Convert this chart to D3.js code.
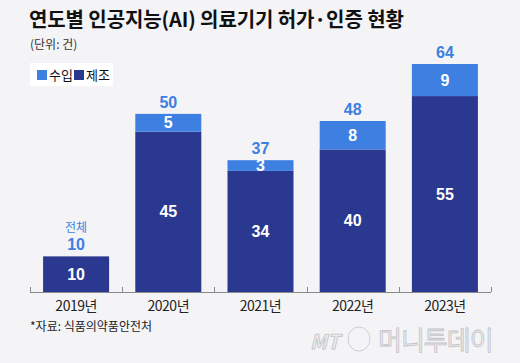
<!DOCTYPE html>
<html>
<head>
<meta charset="utf-8">
<script src="https://cdn.jsdelivr.net/npm/d3@7"></script>
<style>
  body { margin: 0; background: #f4f4f7; }
  svg { display: block; font-family: "Noto Sans CJK KR", "Noto Sans", sans-serif; }
  .num { font-family: "Liberation Sans Narrow", "Liberation Sans", Arial, sans-serif; }
</style>
</head>
<body>
<div id="chart"></div>
<script>
var years = ["2019년", "2020년", "2021년", "2022년", "2023년"];
var made = [10, 45, 34, 40, 55];      // 제조
var imported = [0, 5, 3, 8, 9];       // 수입
var totals = [10, 50, 37, 48, 64];    // 전체
var seriesNames = ["수입", "제조"];

function init() {
    var w = 520;
    var h = 363;
    var base = 292;

    var colImport = "#3e7fe2";
    var colMade = "#2b388f";

    var svg = d3.select("#chart")
                .append("svg")
                .attr("width", w)
                .attr("height", h);

    svg.append("rect")
        .attr("width", w)
        .attr("height", h)
        .attr("fill", "#f4f4f7");

    var xScale = d3.scaleBand()
                .domain(years)
                .range([30, 491])
                .paddingInner(0.284)
                .paddingOuter(0.142);

    var yScale = d3.scaleLinear()
                .domain([0, 64])
                .range([base, 64]);

    // title
    svg.append("text")
        .attr("x", 29)
        .attr("y", 27)
        .attr("font-size", 20)
        .attr("font-weight", "bold")
        .attr("letter-spacing", -0.1)
        .attr("fill", "#111")
        .text("연도별 인공지능(AI) 의료기기 허가·인증 현황");

    svg.append("text")
        .attr("x", 30)
        .attr("y", 49)
        .attr("font-size", 12)
        .attr("fill", "#333")
        .text("(단위: 건)");

    // legend
    var lg = svg.append("g");
    lg.append("rect")
        .attr("x", 30).attr("y", 63)
        .attr("width", 83).attr("height", 23)
        .attr("fill", "#fff");
    var lx = [37, 74];
    seriesNames.forEach(function(name, i) {
        lg.append("rect")
            .attr("x", lx[i]).attr("y", 70)
            .attr("width", 10).attr("height", 10)
            .attr("fill", i == 0 ? colImport : colMade);
        lg.append("text")
            .attr("x", lx[i] + 12).attr("y", 80)
            .attr("font-size", 13)
            .attr("fill", "#111")
            .text(name);
    });

    var data = years.map(function(y, i) {
        return { year: y, made: made[i], imp: imported[i], total: totals[i] };
    });

    // 제조 bars
    svg.selectAll("rect.made")
        .data(data)
        .enter()
        .append("rect")
        .attr("class", "made")
        .attr("x", function(d) { return xScale(d.year); })
        .attr("y", function(d) { return yScale(d.made); })
        .attr("width", xScale.bandwidth())
        .attr("height", function(d) { return base - yScale(d.made); })
        .attr("fill", colMade);

    // 수입 bars
    svg.selectAll("rect.imp")
        .data(data.filter(function(d) { return d.imp > 0; }))
        .enter()
        .append("rect")
        .attr("class", "imp")
        .attr("x", function(d) { return xScale(d.year); })
        .attr("y", function(d) { return yScale(d.made + d.imp); })
        .attr("width", xScale.bandwidth())
        .attr("height", function(d) { return yScale(d.made) - yScale(d.made + d.imp); })
        .attr("fill", colImport);

    var cx = function(d) { return xScale(d.year) + xScale.bandwidth() / 2; };

    // segment labels
    svg.selectAll("text.madeLbl")
        .data(data)
        .enter()
        .append("text")
        .attr("class", "num")
        .attr("x", cx)
        .attr("y", function(d) { return (yScale(d.made) + base) / 2 + 5.5; })
        .attr("text-anchor", "middle")
        .attr("font-size", 16)
        .attr("font-weight", "bold")
        .attr("fill", "#fff")
        .text(function(d) { return d.made; });

    svg.selectAll("text.impLbl")
        .data(data.filter(function(d) { return d.imp > 0; }))
        .enter()
        .append("text")
        .attr("class", "num")
        .attr("x", cx)
        .attr("y", function(d) { return (yScale(d.made) + yScale(d.made + d.imp)) / 2 + 5.5; })
        .attr("text-anchor", "middle")
        .attr("font-size", 16)
        .attr("font-weight", "bold")
        .attr("fill", "#fff")
        .text(function(d) { return d.imp; });

    // totals
    svg.selectAll("text.totLbl")
        .data(data)
        .enter()
        .append("text")
        .attr("class", "num")
        .attr("x", cx)
        .attr("y", function(d) { return yScale(d.total) - 6; })
        .attr("text-anchor", "middle")
        .attr("font-size", 16)
        .attr("font-weight", "bold")
        .attr("fill", colImport)
        .text(function(d) { return d.total; });

    svg.append("text")
        .attr("x", cx(data[0]))
        .attr("y", yScale(data[0].total) - 24)
        .attr("text-anchor", "middle")
        .attr("font-size", 12)
        .attr("fill", colImport)
        .text("전체");

    // baseline with ticks between bands
    var step = xScale.step();
    var edges = years.map(function(y) { return xScale(y) - step * xScale.paddingInner() / 2; });
    edges.push(xScale.range()[1]);
    svg.append("line")
        .attr("x1", edges[0]).attr("x2", edges[edges.length - 1])
        .attr("y1", base + 0.5).attr("y2", base + 0.5)
        .attr("stroke", "#888");
    svg.selectAll("line.tick")
        .data(edges)
        .enter()
        .append("line")
        .attr("x1", function(d) { return Math.round(d) + 0.5; })
        .attr("x2", function(d) { return Math.round(d) + 0.5; })
        .attr("y1", base - 5).attr("y2", base)
        .attr("stroke", "#888");

    svg.selectAll("text.year")
        .data(data)
        .enter()
        .append("text")
        .attr("x", cx)
        .attr("y", base + 19)
        .attr("text-anchor", "middle")
        .attr("font-size", 14)
        .attr("letter-spacing", -0.5)
        .attr("fill", "#222")
        .text(function(d) { return d.year; });

    svg.append("text")
        .attr("x", 30)
        .attr("y", 331)
        .attr("font-size", 12)
        .attr("fill", "#222")
        .text("*자료: 식품의약품안전처");

    // watermark
    var wm = svg.append("g").attr("fill", "#ebebef").attr("stroke", "#c4c4c8").attr("stroke-width", 0.8);
    wm.append("text")
        .attr("x", 310).attr("y", 349)
        .attr("font-size", 20)
        .attr("font-style", "italic")
        .attr("font-weight", "bold")
        .text("MT");
    wm.append("ellipse")
        .attr("cx", 359).attr("cy", 339)
        .attr("rx", 11).attr("ry", 12)
        .attr("fill", "none");
    wm.append("text")
        .attr("x", 378).attr("y", 350)
        .attr("font-size", 26)
        .attr("letter-spacing", -1)
        .text("머니투데이");
}

window.onload = init;
</script>
</body>
</html>
